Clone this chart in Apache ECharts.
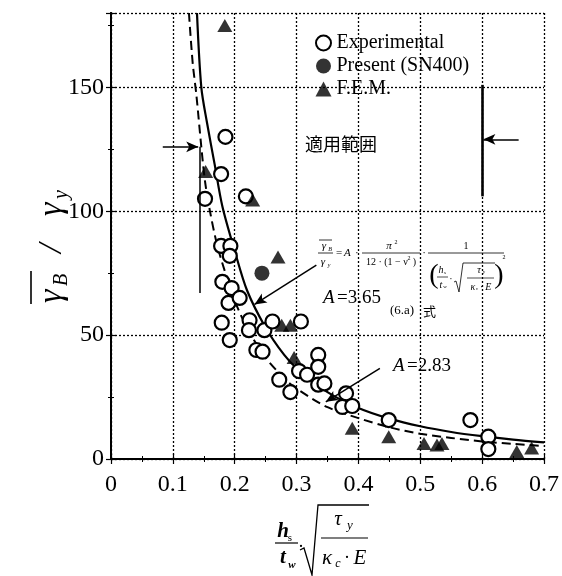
<!DOCTYPE html>
<html><head><meta charset="utf-8">
<script src="https://cdn.jsdelivr.net/npm/echarts@6/dist/echarts.min.js"></script>
<style>html,body{margin:0;padding:0;background:#fff}#c{width:562px;height:576px}</style>
</head><body><div id="c"></div>
<script>
// ---- data ----
const xTickLabels = ['0','0.1','0.2','0.3','0.4','0.5','0.6','0.7'];
const yTickLabels = ['0','50','100','150'];

const expX = [0.152,0.185,0.178,0.218,0.178,0.193,0.192,0.180,0.195,0.190,0.208,0.179,0.192,0.224,0.223,0.248,0.261,0.307,0.235,0.245,0.272,0.290,0.304,0.317,0.335,0.335,0.335,0.345,0.380,0.374,0.390,0.449,0.581,0.610,0.610];
const expY = [105,130,115,106,86,86,82,71.5,69,63,65,55,48,56,52,52,55.5,55.5,44,43.3,32,27,35.5,34,42,37.2,30,30.5,26.5,21,21.4,15.7,15.7,9,4];

const presentX = [0.244];
const presentY = [75];

const femX = [0.184,0.153,0.229,0.270,0.276,0.290,0.296,0.390,0.449,0.506,0.527,0.535,0.656,0.680];
const femY = [175,116,104.5,81.5,54,54,41,12.4,9,6.3,5.6,6.3,3,4.4];

const curveAX = [0.139,0.146,0.155,0.1675,0.18,0.20,0.22,0.25,0.28,0.30,0.35,0.40,0.45,0.50,0.55,0.60,0.65,0.70];
const curveAY = [180,150,136,119,102,84,68,53,42,36.7,27,20.6,16.3,13.2,10.9,9.2,7.8,6.7];

const curveBX = [0.126,0.132,0.138,0.146,0.152,0.160,0.170,0.180,0.200,0.220,0.250,0.280,0.300,0.350,0.400,0.450,0.500,0.550,0.600,0.650,0.700];
const curveBY = [180,160,147,126,112,100,88,79,64,52.9,40.9,32.6,28.4,20.9,16.5,12.8,10.2,8.5,7.1,6.1,5.2];

const zip = (a,b)=>a.map((v,i)=>[v,b[i]]);

const serif = '"Liberation Serif", "DejaVu Serif", serif';
const cjk = '"Noto Sans CJK JP", sans-serif';

const chart = echarts.init(document.getElementById('c'));

function T(x,y,text,size,opt){
  opt = opt||{};
  return {type:'text', silent:true, z:50, style:{
    text:text, x:x, y:y, fill:'#000',
    font:(opt.italic?'italic ':'')+(opt.bold?'bold ':'')+size+'px '+(opt.family||serif),
    textAlign:opt.align||'center', textVerticalAlign:'middle'}};
}
function L(pts,w){
  return {type:'polyline', silent:true, z:50, shape:{points:pts}, style:{stroke:'#000', lineWidth:w||1, fill:null}};
}

const graphics = [
  // range label
  T(305,144,'適用範囲',18,{family:cjk,align:'left'}),
  // A labels
  T(323,298,'A',19,{italic:true,align:'left'}),
  T(337,298,'=3.65',19,{align:'left'}),
  T(390,311,'(6.a)',13,{align:'left'}),
  T(423,311,'式',13,{family:cjk,align:'left'}),
  T(393,366,'A',19,{italic:true,align:'left'}),
  T(407,366,'=2.83',19,{align:'left'}),
  // formula
  T(324,246,'γ',11,{italic:true}), T(330,249,'B',6,{italic:true}),
  L([[319,240],[332,240]],0.8),
  L([[318,253],[333,253]],0.8),
  T(323,262,'γ',11,{italic:true}), T(329,265,'y',6,{italic:true}),
  T(336,253,'=',11,{align:'left'}), T(344,253,'A',11,{italic:true,align:'left'}), T(355,253,'·',11,{align:'left'}),
  T(389,246,'π',11,{italic:true}), T(396,242,'2',6),
  L([[362,253],[420,253]],0.8),
  T(391,262,'12 · (1 − ν  )',10), T(409,258,'2',6),
  T(424,253,'·',11),
  T(466,246,'1',10),
  L([[428,253],[504,253]],0.8),
  T(434,276,'(',28),
  T(441,270,'h',10,{italic:true}), T(445,273,'s',5),
  L([[437,277],[448,277]],0.7),
  T(441,285,'t',10,{italic:true}), T(445,287,'w',5),
  T(451,279,'·',10),
  L([[454,282],[456,281],[459,292],[463,263],[495,263]],0.8),
  T(479,270,'τ',10,{italic:true}), T(484,272,'y',5),
  L([[467,278],[494,278]],0.7),
  T(481,287,'κ  · E',10,{italic:true}), T(477,289,'c',5),
  T(499,276,')',28),
  T(504,257,'2',6),
  // x axis name
  T(283,532,'h',21,{italic:true,bold:true}), T(290,538,'s',11),
  L([[275,543],[298,543]],1.2),
  T(283,558,'t',21,{italic:true,bold:true}), T(292,565,'w',11,{italic:true,bold:true}),
  T(301,547,'·',18),
  L([[300,550],[304,548],[312,575],[318,505],[369,505]],1.3),
  T(338,519,'τ',21,{italic:true}), T(350,526,'y',13,{italic:true}),
  L([[321,538],[368,538]],1.2),
  T(327,558,'κ',21,{italic:true}), T(338,564,'c',12,{italic:true}),
  T(347,558,'·',18), T(360,558,'E',21,{italic:true}),
  // y axis name (rotated)
  {type:'group', x:52, y:245, rotation:Math.PI/2, silent:true, z:50, children:[
    T(-58,0,'γ',34,{italic:true,align:'left'}),
    T(-41,10,'B',20,{italic:true,align:'left'}),
    L([[-59,-21],[-26,-21]],1.6),
    T(-8,0,'/',34,{italic:true,align:'left'}),
    T(29,0,'γ',34,{italic:true,align:'left'}),
    T(46,10,'y',20,{italic:true,align:'left'})
  ]}
];

const axisCommon = {
  min:0, axisLine:{show:true,lineStyle:{color:'#000',width:2}},
  axisTick:{show:true,inside:true,length:5,lineStyle:{color:'#000',width:1.2}},
  minorTick:{show:true,splitNumber:2,length:3,lineStyle:{color:'#000',width:1}}
};

chart.setOption({
  animation:false,
  backgroundColor:'#fff',
  grid:{left:111,right:16,top:13,bottom:117,containLabel:false},
  legend:{
    orient:'vertical', left:310, top:28, itemGap:3, itemWidth:16, itemHeight:15,
    data:['Experimental','Present (SN400)','F.E.M.'],
    textStyle:{fontFamily:serif,fontSize:20,color:'#000'}
  },
  xAxis:[
    Object.assign({}, axisCommon, {type:'value', max:0.7, interval:0.1,
      axisLabel:{color:'#000',fontFamily:serif,fontSize:24,margin:14,
        formatter:(v)=>xTickLabels[Math.round(v*10)]||''},
      splitLine:{show:true,lineStyle:{color:'#000',type:[2,2],width:1.3}}}),
    Object.assign({}, axisCommon, {type:'value', position:'top', max:0.7, interval:0.1,
      axisLabel:{show:false}, splitLine:{show:false}})
  ],
  yAxis:[
    Object.assign({}, axisCommon, {type:'value', max:180, interval:50,
      axisLabel:{color:'#000',fontFamily:serif,fontSize:24,margin:7,showMaxLabel:false,
        formatter:(v)=> (v%50===0 && yTickLabels[v/50]!==undefined) ? yTickLabels[v/50] : ''},
      splitLine:{show:true,lineStyle:{color:'#000',type:[2,2],width:1.3}}}),
    Object.assign({}, axisCommon, {type:'value', position:'right', max:180, interval:50,
      axisLabel:{show:false}, splitLine:{show:false}})
  ],
  graphic:graphics,
  series:[
    {name:'solidCurve', type:'line', data:zip(curveAX,curveAY), smooth:0.3, showSymbol:false, silent:true,
      lineStyle:{color:'#000',width:2.2}, z:2, clip:true},
    {name:'dashedCurve', type:'line', data:zip(curveBX,curveBY), smooth:0.3, showSymbol:false, silent:true,
      lineStyle:{color:'#000',width:2,type:[9,5]}, z:2, clip:true},
    {name:'annot', type:'line', data:[], silent:true,
      markLine:{silent:true, animation:false, label:{show:false}, symbol:['none','none'],
        lineStyle:{color:'#000',width:1.5,type:'solid'},
        data:[
          [{coord:[0.0837,126],symbol:'none'},{coord:[0.141,126],symbol:'arrow',symbolSize:[8,12]}],
          [{coord:[0.659,129],symbol:'none'},{coord:[0.602,129],symbol:'arrow',symbolSize:[8,12]}],
          [{coord:[0.1433,126],symbol:'none'},{coord:[0.1433,67],symbol:'none'}],
          [{coord:[0.6,151],symbol:'none',lineStyle:{width:2.6}},{coord:[0.6,106],symbol:'none'}],
          [{coord:[0.332,78.2],symbol:'none'},{coord:[0.232,62.4],symbol:'arrow',symbolSize:[8,12]}],
          [{coord:[0.4347,36.6],symbol:'none'},{coord:[0.3473,23.1],symbol:'arrow',symbolSize:[8,12]}]
        ]}},
    {name:'Experimental', type:'scatter', data:zip(expX,expY), symbol:'circle', symbolSize:14,
      itemStyle:{color:'#fff',borderColor:'#000',borderWidth:2.2,opacity:1}, z:4},
    {name:'Present (SN400)', type:'scatter', data:zip(presentX,presentY), symbol:'circle', symbolSize:15,
      itemStyle:{color:'#000',borderColor:'#000',borderWidth:0}, z:5},
    {name:'F.E.M.', type:'scatter', data:zip(femX,femY), symbol:'triangle', symbolSize:[15,13],
      itemStyle:{color:'#000'}, z:5}
  ]
});
</script></body></html>
